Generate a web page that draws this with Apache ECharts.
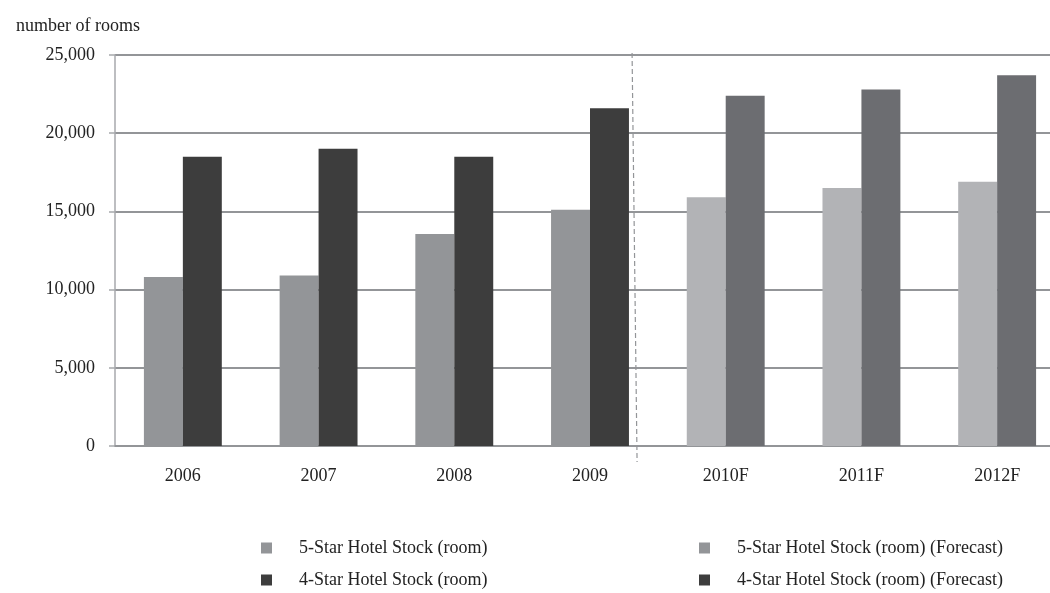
<!DOCTYPE html>
<html>
<head>
<meta charset="utf-8">
<script src="https://cdn.jsdelivr.net/npm/echarts@6/dist/echarts.min.js"></script>
<style>
  html, body { margin: 0; padding: 0; background: #fff; }
  #chart { width: 1050px; height: 593px; }
</style>
</head>
<body>
<div id="chart"></div>
<script>
const years = ['2006', '2007', '2008', '2009', '2010F', '2011F', '2012F'];
// actual values (2006-2009), forecast values (2010F-2012F)
const fiveStar = [10800, 10900, 13550, 15100, '-', '-', '-'];
const fourStar = [18500, 19000, 18500, 21600, '-', '-', '-'];
const fiveStarForecast = ['-', '-', '-', '-', 15900, 16500, 16900];
const fourStarForecast = ['-', '-', '-', '-', 22400, 22800, 23700];

const font = 'Liberation Serif';
const chart = echarts.init(document.getElementById('chart'));

const legendText = {
    fontFamily: font,
    fontSize: 18,
    lineHeight: 18,
    color: '#222',
    padding: [0, 0, 0, 22]
};

const option = {
    animation: false,
    textStyle: { fontFamily: font },
    title: {
        text: 'number of rooms',
        left: 11,
        top: 12,
        textStyle: { fontFamily: font, fontSize: 18, fontWeight: 'normal', color: '#222' }
    },
    // plot area runs past the right edge of the picture, as in the source
    grid: { left: 115, width: 950, top: 55, bottom: 147, outerBoundsMode: 'none', containLabel: false },
    legend: [
        {
            orient: 'vertical',
            left: 261,
            top: 539,
            padding: 0,
            itemWidth: 11,
            itemHeight: 11,
            itemGap: 14,
            textStyle: legendText,
            data: [
                { name: '5-Star Hotel Stock (room)', icon: 'rect' },
                { name: '4-Star Hotel Stock (room)', icon: 'rect' }
            ]
        },
        {
            orient: 'vertical',
            left: 699,
            top: 539,
            padding: 0,
            itemWidth: 11,
            itemHeight: 11,
            itemGap: 14,
            textStyle: legendText,
            data: [
                { name: '5-Star Hotel Stock (room) (Forecast)', icon: 'rect', itemStyle: { color: '#939598' } },
                { name: '4-Star Hotel Stock (room) (Forecast)', icon: 'rect', itemStyle: { color: '#3d3d3d' } }
            ]
        }
    ],
    xAxis: {
        type: 'category',
        data: years,
        axisLine: { lineStyle: { color: '#939598', width: 2 } },
        axisTick: { show: false },
        axisLabel: { fontFamily: font, fontSize: 18, color: '#222', margin: 21 }
    },
    yAxis: {
        type: 'value',
        min: 0,
        max: 25000,
        interval: 5000,
        axisLine: { show: true, lineStyle: { color: '#a7a9ac', width: 1.5 } },
        axisTick: { show: true, length: 6, lineStyle: { color: '#a7a9ac', width: 1.5 } },
        splitLine: { lineStyle: { color: '#939598', width: 2 } },
        axisLabel: {
            fontFamily: font,
            fontSize: 18,
            color: '#222',
            margin: 20,
            formatter: v => v.toLocaleString('en-US')
        }
    },
    series: [
        {
            name: '5-Star Hotel Stock (room)',
            type: 'bar',
            stack: 'five',
            data: fiveStar,
            barWidth: '28.7%',
            barGap: '0%',
            itemStyle: { color: '#939598' }
        },
        {
            name: '5-Star Hotel Stock (room) (Forecast)',
            type: 'bar',
            stack: 'five',
            data: fiveStarForecast,
            barWidth: '28.7%',
            barGap: '0%',
            itemStyle: { color: '#b2b3b6' }
        },
        {
            name: '4-Star Hotel Stock (room)',
            type: 'bar',
            stack: 'four',
            data: fourStar,
            barWidth: '28.7%',
            barGap: '0%',
            itemStyle: { color: '#3d3d3d' }
        },
        {
            name: '4-Star Hotel Stock (room) (Forecast)',
            type: 'bar',
            stack: 'four',
            data: fourStarForecast,
            barWidth: '28.7%',
            barGap: '0%',
            itemStyle: { color: '#6c6d71' }
        }
    ]
};

chart.setOption(option);

// dashed separator between actual and forecast years
const pA = chart.convertToPixel({ gridIndex: 0 }, ['2009', 25000]);
const pB = chart.convertToPixel({ gridIndex: 0 }, ['2010F', 0]);
const sepX = pA[0] + (pB[0] - pA[0]) * 0.31;
chart.setOption({
    graphic: [{
        type: 'line',
        shape: { x1: sepX, y1: pA[1] - 2, x2: sepX + 5, y2: pB[1] + 16 },
        style: { stroke: '#939598', lineWidth: 1.2, lineDash: [5, 3] },
        z: 10
    }]
});
</script>
</body>
</html>
